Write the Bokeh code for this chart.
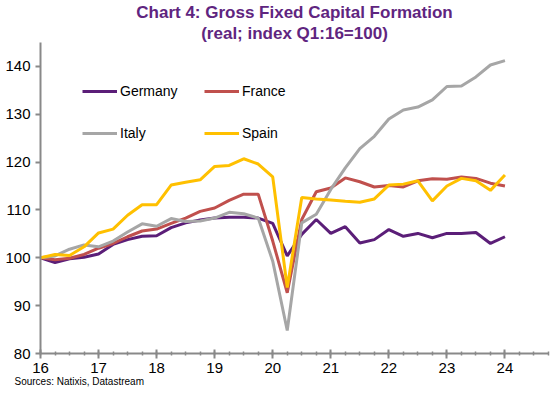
from bokeh.plotting import figure
from bokeh.models import (FixedTicker, Legend, LegendItem, Range1d, Title)
from bokeh.embed import file_html
from bokeh.resources import INLINE

# ---- data (index Q1:16 = 100), quarterly 2016Q1 .. 2024Q1 ----
quarters = [f"{y}Q{q}" for y in range(2016, 2025) for q in range(1, 5)][:33]
x_pos = [int(s[2:4]) + (int(s[-1]) - 1) / 4 for s in quarters]

germany = [100, 99.0, 99.8, 100.1, 100.8, 102.8, 103.8, 104.5, 104.6, 106.3, 107.3,
           107.9, 108.3, 108.5, 108.5, 108.3, 107.2, 100.4, 104.9, 108.0, 105.1, 106.5,
           103.1, 103.8, 105.9, 104.5, 105.1, 104.2, 105.1, 105.1, 105.3, 103.0, 104.4]
france = [100, 99.6, 99.9, 100.7, 102.0, 103.0, 104.4, 105.6, 106.0, 107.2, 108.3,
          109.7, 110.4, 112.0, 113.3, 113.3, 103.5, 92.7, 108.0, 113.8, 114.6, 116.7,
          115.9, 114.8, 115.1, 114.8, 116.1, 116.5, 116.4, 116.9, 116.6, 115.6, 115.0]
italy = [100, 100.4, 101.8, 102.7, 102.3, 103.5, 105.4, 107.1, 106.6, 108.2, 107.6,
         107.7, 108.3, 109.5, 109.2, 108.3, 99.3, 84.8, 107.3, 109.1, 114.3, 118.8,
         122.8, 125.4, 129.0, 130.9, 131.5, 133.0, 135.8, 135.9, 137.8, 140.3, 141.2]
spain = [100, 100.7, 100.5, 102.3, 105.2, 106.0, 108.9, 111.1, 111.1, 115.2, 115.8,
         116.3, 119.1, 119.3, 120.7, 119.6, 116.9, 93.8, 112.6, 112.3, 112.1, 111.8,
         111.6, 112.3, 115.2, 115.4, 116.1, 111.9, 115.0, 116.6, 116.1, 114.1, 117.3]

series_names = ["Germany", "France", "Italy", "Spain"]
series_values = [germany, france, italy, spain]
series_colors = ["#5B1E78", "#C0504D", "#A6A6A6", "#FFC000"]

x_ticks = [16, 17, 18, 19, 20, 21, 22, 23, 24]
x_minor = [16 + i / 4 for i in range(36)]
y_ticks = [80, 90, 100, 110, 120, 130, 140]

title1 = "Chart 4: Gross Fixed Capital Formation"
title2 = "(real; index Q1:16=100)"
source = "Sources: Natixis, Datastream"

FONT = "Liberation Sans"
PURPLE = "#5F2580"
AXIS = "#898989"

p = figure(width=557, height=398, output_backend="svg", toolbar_location=None,
           x_range=Range1d(16, 24.75), y_range=Range1d(80, 145),
           min_border_left=40, min_border_right=9, min_border_top=40,
           min_border_bottom=45)
p.outline_line_color = None
p.xgrid.visible = False
p.ygrid.visible = False
p.background_fill_color = "white"

renderers = []
for name, vals, col in zip(series_names, series_values, series_colors):
    r = p.line(x_pos, vals, line_color=col, line_width=3)
    renderers.append(r)

# axes
xa = p.xaxis[0]
xa.ticker = FixedTicker(ticks=x_ticks, minor_ticks=x_minor)
xa.axis_line_color = AXIS
xa.axis_line_width = 2
xa.major_tick_line_color = AXIS
xa.major_tick_line_width = 2
xa.major_tick_in = 4
xa.major_tick_out = 5
xa.minor_tick_line_color = AXIS
xa.minor_tick_line_width = 1.5
xa.minor_tick_in = 2
xa.minor_tick_out = 2
xa.major_label_text_font = FONT
xa.major_label_text_font_size = "15px"
xa.major_label_text_color = "#000000"
xa.major_label_standoff = 4

ya = p.yaxis[0]
ya.ticker = FixedTicker(ticks=y_ticks, minor_ticks=[])
ya.axis_line_color = AXIS
ya.axis_line_width = 2
ya.major_tick_line_color = AXIS
ya.major_tick_line_width = 2
ya.major_tick_in = 0
ya.major_tick_out = 5
ya.minor_tick_line_color = None
ya.major_label_text_font = FONT
ya.major_label_text_font_size = "15px"
ya.major_label_text_color = "#000000"
ya.major_label_standoff = 5

# legends (one per item for exact placement)
legend_pos = [(42, 252), (164, 252), (42, 210), (164, 210)]
for name, r, loc in zip(series_names, renderers, legend_pos):
    lg = Legend(items=[LegendItem(label=name, renderers=[r])], location=loc,
                orientation="horizontal", padding=0, margin=0, spacing=0,
                glyph_width=35, glyph_height=20, label_height=20,
                label_standoff=3, label_text_font=FONT,
                label_text_font_size="14px", label_text_color="#000000",
                border_line_color=None, background_fill_alpha=0)
    p.add_layout(lg, "center")

# titles (added nearest-first) and source
p.add_layout(Title(text=title2, align="center", offset=-22, standoff=0,
                   text_font=FONT, text_font_size="17px", text_font_style="bold",
                   text_color=PURPLE), "above")
p.add_layout(Title(text=title1, align="center", offset=-22, standoff=0,
                   text_font=FONT, text_font_size="17px", text_font_style="bold",
                   text_color=PURPLE), "above")
p.add_layout(Title(text=source, align="left", offset=-26, standoff=-4,
                   text_font=FONT, text_font_size="10px", text_font_style="normal",
                   text_color="#000000"), "below")

open("out.html", "w").write(file_html(p, INLINE))
